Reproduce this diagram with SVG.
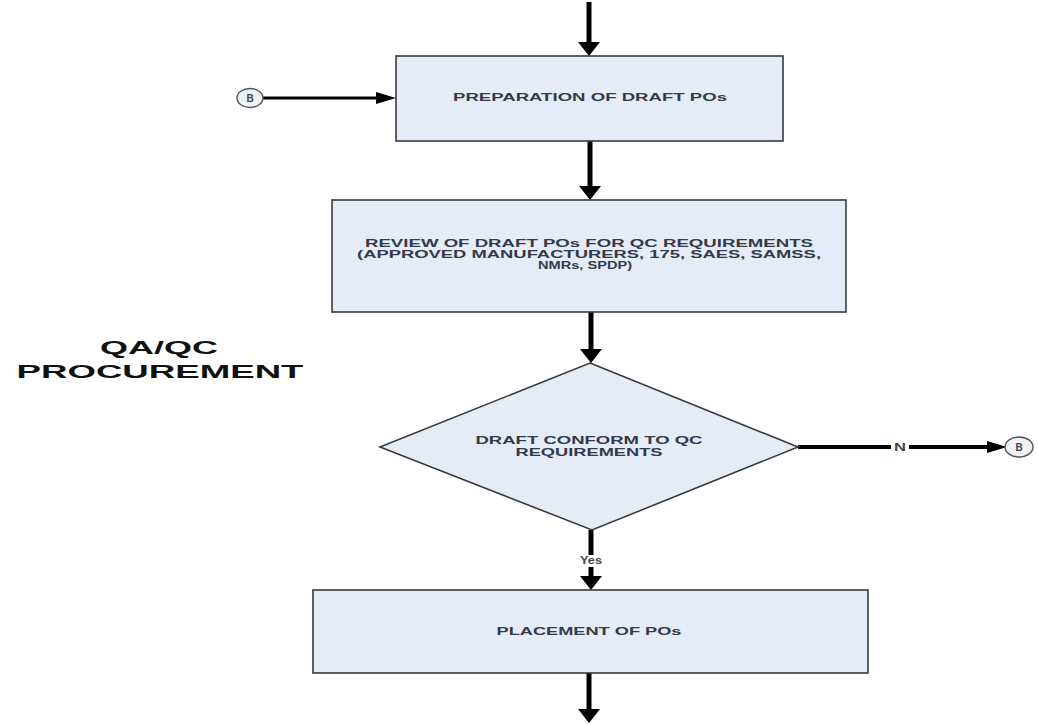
<svg xmlns="http://www.w3.org/2000/svg" width="1038" height="725" viewBox="0 0 1038 725">
<style>
.box{fill:#e5ecf7;stroke:#3a3a3a;stroke-width:1.6}
.conn{fill:#eef2f9;stroke:#555;stroke-width:1.4}
.t{font-family:"Liberation Sans",Arial,sans-serif;font-weight:bold;font-size:10px;fill:#333a4a;lengthAdjust:spacingAndGlyphs}
.lbl{font-family:"Liberation Sans",Arial,sans-serif;font-weight:bold;font-size:10px;fill:#444}
.title{font-family:"Liberation Sans",Arial,sans-serif;font-weight:bold;font-size:19px;fill:#111}
.thick{stroke:#000;stroke-width:5;fill:none}
.thin{stroke:#000;stroke-width:3;fill:none}
</style>
<defs>
<marker id="ah" markerUnits="userSpaceOnUse" markerWidth="14" markerHeight="22" refX="4" refY="11" orient="auto">
<path d="M0,0 L14,11 L0,22 z" fill="#000"/>
</marker>
<marker id="ahs" markerUnits="userSpaceOnUse" markerWidth="20" markerHeight="12" refX="8" refY="6" orient="auto">
<path d="M0,0 L20,6 L0,12 z" fill="#000"/>
</marker>
</defs>
<rect width="1038" height="725" fill="#fff"/>

<g id="title">
<text class="title" x="159" y="354" text-anchor="middle" textLength="118" lengthAdjust="spacingAndGlyphs">QA/QC</text>
<text class="title" x="160" y="378" text-anchor="middle" textLength="287" lengthAdjust="spacingAndGlyphs">PROCUREMENT</text>
</g>

<g id="connectors">
<line class="thick" x1="589" y1="2" x2="589" y2="46" marker-end="url(#ah)"/>
<line class="thin" x1="263" y1="98" x2="384" y2="98" marker-end="url(#ahs)"/>
<line class="thick" x1="590" y1="141" x2="590" y2="190" marker-end="url(#ah)"/>
<line class="thick" x1="591" y1="312" x2="591" y2="353" marker-end="url(#ah)"/>
<line class="thin" x1="798" y1="447" x2="995" y2="447" style="stroke-width:4" marker-end="url(#ahs)"/>
<line class="thick" x1="591" y1="530" x2="591" y2="580" marker-end="url(#ah)"/>
<line class="thick" x1="589" y1="673" x2="589" y2="713" marker-end="url(#ah)"/>
<rect x="891" y="441" width="18" height="12" fill="#fff"/>
<text class="lbl" x="900" y="451" text-anchor="middle" textLength="12" lengthAdjust="spacingAndGlyphs">N</text>
<rect x="578" y="555" width="26" height="12" fill="#fff"/>
<text class="lbl" x="591" y="564" text-anchor="middle" textLength="22" lengthAdjust="spacingAndGlyphs">Yes</text>
</g>

<g id="connB-left">
<ellipse class="conn" cx="250" cy="98" rx="13" ry="9.5"/>
<text class="lbl" x="250" y="101.5" text-anchor="middle" font-size="9">B</text>
</g>

<g id="connB-right">
<ellipse class="conn" cx="1019" cy="447" rx="14" ry="10"/>
<text class="lbl" x="1019" y="451" text-anchor="middle" font-size="9">B</text>
</g>

<g id="prep">
<rect class="box" x="396" y="56" width="387" height="85"/>
<text class="t" x="590" y="101" text-anchor="middle" textLength="274" lengthAdjust="spacingAndGlyphs">PREPARATION OF DRAFT POs</text>
</g>

<g id="review">
<rect class="box" x="332" y="200" width="514" height="112"/>
<text class="t" x="589" y="247" text-anchor="middle" textLength="448" lengthAdjust="spacingAndGlyphs">REVIEW OF DRAFT POs FOR QC REQUIREMENTS</text>
<text class="t" x="589" y="258" text-anchor="middle" textLength="464" lengthAdjust="spacingAndGlyphs">(APPROVED MANUFACTURERS, 175, SAES, SAMSS,</text>
<text class="t" x="585" y="269" text-anchor="middle" textLength="94" lengthAdjust="spacingAndGlyphs">NMRs, SPDP)</text>
</g>

<g id="decision">
<polygon class="box" points="590,363 798,447 592,530 380,447"/>
<text class="t" x="589" y="444" text-anchor="middle" textLength="227" lengthAdjust="spacingAndGlyphs">DRAFT CONFORM TO QC</text>
<text class="t" x="589" y="456" text-anchor="middle" textLength="147" lengthAdjust="spacingAndGlyphs">REQUIREMENTS</text>
</g>

<g id="placement">
<rect class="box" x="313" y="590" width="555" height="83"/>
<text class="t" x="589" y="635" text-anchor="middle" textLength="185" lengthAdjust="spacingAndGlyphs">PLACEMENT OF POs</text>
</g>
</svg>
